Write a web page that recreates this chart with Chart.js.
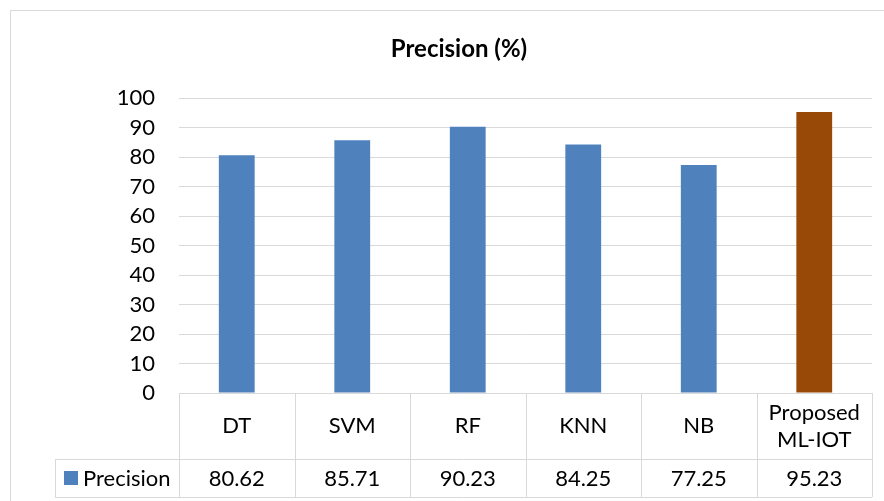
<!DOCTYPE html>
<html>
<head>
<meta charset="utf-8">
<script src="https://cdn.jsdelivr.net/npm/chart.js@4.4.1/dist/chart.umd.min.js"></script>
<style>
  html, body { margin: 0; padding: 0; background: #ffffff; }
  #wrap { width: 884px; height: 501px; position: relative; }
</style>
</head>
<body>
<div id="wrap"><canvas id="c" width="884" height="501"></canvas></div>
<script>
// Models compared and their precision scores (%)
const categories = ['DT', 'SVM', 'RF', 'KNN', 'NB', ['Proposed', 'ML-IOT']];
const precision = [80.62, 85.71, 90.23, 84.25, 77.25, 95.23];
const valueLabels = ['80.62', '85.71', '90.23', '84.25', '77.25', '95.23'];
const seriesName = 'Precision';
const chartTitle = 'Precision (%)';
const yTicks = [0, 10, 20, 30, 40, 50, 60, 70, 80, 90, 100];

const BLUE = '#4F81BD';
const BROWN = '#984807';
const LINE = '#d9d9d9';
const FONT = 'Lato, "Open Sans", "Liberation Sans", sans-serif';

const barColors = precision.map((v, i) => i === precision.length - 1 ? BROWN : BLUE);

// Frame, title and the data table under the category axis
const tablePlugin = {
  id: 'dataTable',
  afterDraw(chart) {
    const ctx = chart.ctx;
    const xs = chart.scales.x;
    const area = chart.chartArea;
    const n = categories.length;
    const colW = (area.right - area.left) / n;
    const top = area.bottom;
    const mid = top + 66;
    const bottom = top + 104;
    const legendLeft = 55;

    ctx.save();
    // outer chart frame
    ctx.strokeStyle = LINE;
    ctx.lineWidth = 1;
    ctx.strokeRect(10.5, 10.5, 900, 520);

    // title
    ctx.fillStyle = '#000';
    ctx.font = 'bold 24px ' + FONT;
    ctx.textAlign = 'center';
    ctx.textBaseline = 'middle';
    ctx.fillText(chartTitle, 459, 49);

    // table grid
    ctx.strokeStyle = LINE;
    ctx.beginPath();
    ctx.moveTo(area.left, Math.round(top) + 0.5);
    ctx.lineTo(area.right, Math.round(top) + 0.5);
    ctx.moveTo(legendLeft, mid + 0.5);
    ctx.lineTo(area.right, mid + 0.5);
    ctx.moveTo(legendLeft, bottom + 0.5);
    ctx.lineTo(area.right, bottom + 0.5);
    for (let i = 0; i <= n; i++) {
      const x = Math.round(area.left + i * colW) + 0.5;
      ctx.moveTo(x, top);
      ctx.lineTo(x, bottom);
    }
    ctx.moveTo(legendLeft + 0.5, mid);
    ctx.lineTo(legendLeft + 0.5, bottom);
    ctx.stroke();

    // category names and values
    ctx.fillStyle = '#000';
    ctx.font = '22px ' + FONT;
    ctx.textAlign = 'center';
    ctx.textBaseline = 'middle';
    for (let i = 0; i < n; i++) {
      const cx = xs.getPixelForValue(i);
      const lab = categories[i];
      const rowMid = (top + mid) / 2;
      if (Array.isArray(lab)) {
        ctx.fillText(lab[0], cx, rowMid - 13);
        ctx.fillText(lab[1], cx, rowMid + 14);
      } else {
        ctx.fillText(lab, cx, rowMid);
      }
      ctx.fillText(valueLabels[i], cx, (mid + bottom) / 2 + 1);
    }

    // legend key in the table
    ctx.fillStyle = BLUE;
    ctx.fillRect(64, 471, 14, 14);
    ctx.fillStyle = '#000';
    ctx.textAlign = 'left';
    ctx.fillText(seriesName, 83, (mid + bottom) / 2 + 1);
    ctx.restore();
  }
};

new Chart(document.getElementById('c'), {
  type: 'bar',
  data: {
    labels: categories,
    datasets: [{
      label: seriesName,
      data: precision,
      backgroundColor: barColors,
      borderWidth: 0,
      categoryPercentage: 1.0,
      barPercentage: 0.31
    }]
  },
  options: {
    responsive: false,
    animation: false,
    devicePixelRatio: 1,
    layout: { padding: { left: 0, top: 98, right: 12, bottom: 108 } },
    plugins: {
      legend: { display: false },
      title: { display: false },
      tooltip: { enabled: false }
    },
    scales: {
      x: { display: false },
      y: {
        min: 0,
        max: 100,
        afterFit(scale) { scale.width = 179; },
        afterBuildTicks(scale) { scale.ticks = yTicks.map(v => ({ value: v })); },
        ticks: {
          color: '#000',
          font: { family: FONT, size: 22 },
          padding: 24
        },
        grid: { color: LINE, lineWidth: 1, drawTicks: false },
        border: { display: false }
      }
    }
  },
  plugins: [tablePlugin]
});
</script>
</body>
</html>
